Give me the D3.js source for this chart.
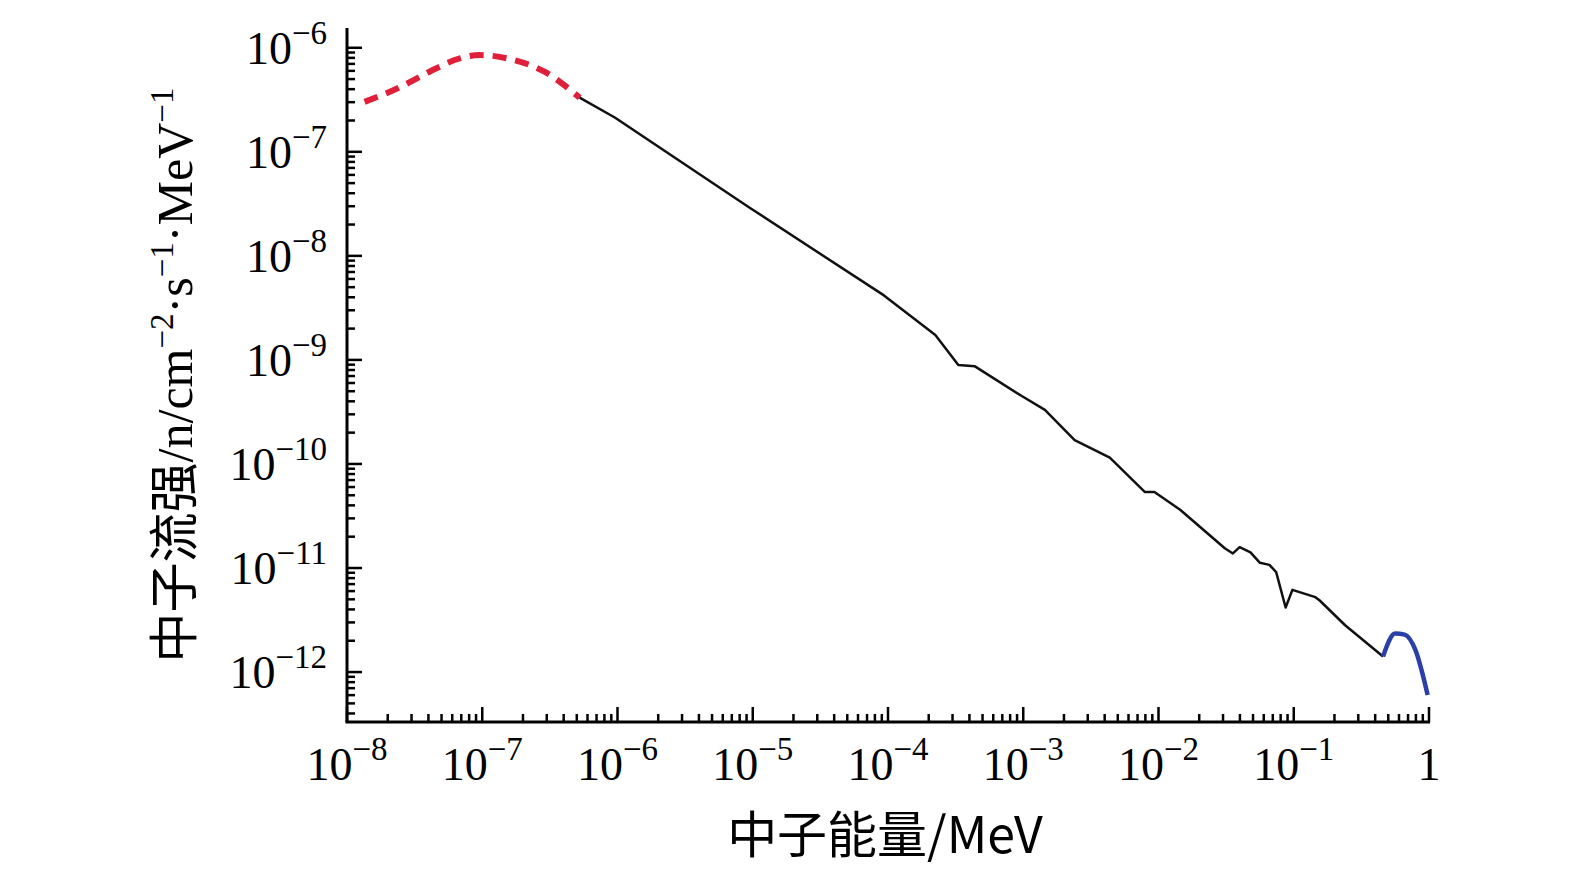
<!DOCTYPE html><html><head><meta charset="utf-8"><script src="https://cdn.jsdelivr.net/npm/d3@7"></script>
<style>body{margin:0;background:#fff}</style></head><body><svg id="c" width="1575" height="875"></svg>
<script>
// log10(E/MeV), log10(flux)
const redLogE=[-7.87,-7.61,-7.39,-7.16,-7.02,-6.79,-6.54,-6.28];
const redLogF=[-6.52,-6.38,-6.23,-6.10,-6.07,-6.11,-6.23,-6.48];
const blackLogE=[-6.28,-6.02,-5.02,-4.03,-3.65,-3.48,-3.36,-3.02,-2.84,-2.62,-2.36,-2.10,-2.03,-1.84,-1.51,-1.45,-1.40,-1.32,-1.25,-1.18,-1.13,-1.06,-1.01,-0.84,-0.81,-0.62,-0.34];
const blackLogF=[-6.48,-6.67,-7.54,-8.38,-8.76,-9.05,-9.06,-9.34,-9.48,-9.77,-9.94,-10.27,-10.27,-10.44,-10.81,-10.86,-10.80,-10.85,-10.95,-10.97,-11.04,-11.38,-11.21,-11.28,-11.31,-11.55,-11.85];
const blueLogE=[-0.34,-0.25,-0.18,-0.10,-0.01];
const blueLogF=[-11.85,-11.63,-11.64,-11.79,-12.22];
const xTickExp=[-8,-7,-6,-5,-4,-3,-2,-1,0];
const yTickExp=[-6,-7,-8,-9,-10,-11,-12];

const svg=d3.select("#c");
const x=d3.scaleLog().domain([1e-8,1]).range([347,1429]);
const y=d3.scaleLog().domain([Math.pow(10,-12.48),Math.pow(10,-5.81)]).range([722,28]);
const font="'Liberation Serif','Times New Roman',serif";
const g=svg.append("g");
g.append("line").attr("x1",347).attr("x2",347).attr("y1",28).attr("y2",722).attr("stroke","#000").attr("stroke-width",3);
g.append("line").attr("x1",345.5).attr("x2",1430).attr("y1",722).attr("y2",722).attr("stroke","#000").attr("stroke-width",3);
for(let e=-8;e<=0;e++){for(let m=1;m<10;m++){const v=m*Math.pow(10,e);if(v>1)break;const xx=x(v);
 g.append("line").attr("x1",xx).attr("x2",xx).attr("y1",722).attr("y2",722-(m===1?15:8)).attr("stroke","#000").attr("stroke-width",2.5);}}
for(let e=-13;e<=-6;e++){for(let m=1;m<10;m++){const v=m*Math.pow(10,e);if(v<y.domain()[0]||v>y.domain()[1])continue;const yy=y(v);
 g.append("line").attr("x1",347).attr("x2",347+(m===1?15:8)).attr("y1",yy).attr("y2",yy).attr("stroke","#000").attr("stroke-width",2.5);}}
xTickExp.forEach(e=>{const t=g.append("text").attr("x",x(Math.pow(10,e))).attr("y",780).attr("text-anchor","middle").attr("font-family",font).attr("font-size",46);
 if(e===0)t.text("1");else{t.append("tspan").text("10");t.append("tspan").attr("dy",-20).attr("font-size",33).text("−"+(-e));}});
yTickExp.forEach(e=>{const t=g.append("text").attr("x",327).attr("y",y(Math.pow(10,e))+16).attr("text-anchor","end").attr("font-family",font).attr("font-size",46);
 t.append("tspan").text("10");t.append("tspan").attr("dy",-20).attr("font-size",33).text("−"+(-e));});
svg.append("text").attr("x",885).attr("y",853).attr("text-anchor","middle").attr("font-family","'Noto Sans CJK SC',serif").attr("font-size",50).text("中子能量/MeV");
const yt=svg.append("text").attr("transform","translate(192,375) rotate(-90)").attr("text-anchor","middle").attr("font-family",font).attr("font-size",50);
yt.append("tspan").attr("font-family","'Noto Sans CJK SC',serif").text("中子流强");
yt.append("tspan").text("/n/cm");yt.append("tspan").attr("dy",-19).attr("font-size",33).text("−2");
yt.append("tspan").attr("dy",19).text("·s");yt.append("tspan").attr("dy",-19).attr("font-size",33).text("−1");
yt.append("tspan").attr("dy",19).text("·MeV");yt.append("tspan").attr("dy",-19).attr("font-size",33).text("−1");
const line=d3.line().x(d=>x(Math.pow(10,d[0]))).y(d=>y(Math.pow(10,d[1]))).curve(d3.curveMonotoneX);
const lineL=d3.line().x(d=>x(Math.pow(10,d[0]))).y(d=>y(Math.pow(10,d[1])));
svg.append("path").attr("d",line(d3.zip(redLogE,redLogF))).attr("fill","none").attr("stroke","#e0203a").attr("stroke-width",6).attr("stroke-dasharray","14,9");
svg.append("path").attr("d",lineL(d3.zip(blackLogE,blackLogF))).attr("fill","none").attr("stroke","#111").attr("stroke-width",2.5).attr("stroke-linejoin","round");
svg.append("path").attr("d",line(d3.zip(blueLogE,blueLogF))).attr("fill","none").attr("stroke","#2b3fa8").attr("stroke-width",4.5);
</script></body></html>
